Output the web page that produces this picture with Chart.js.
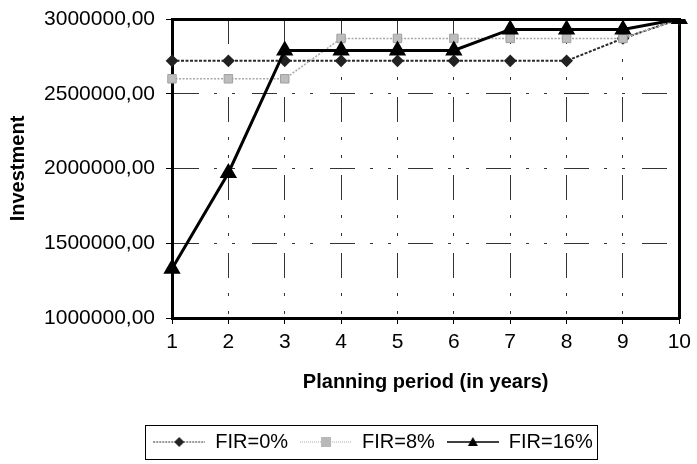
<!DOCTYPE html>
<html>
<head>
<meta charset="utf-8">
<script src="https://cdn.jsdelivr.net/npm/chart.js@4.4.1/dist/chart.umd.min.js"></script>
<style>
  html, body { margin: 0; padding: 0; background: #fff; }
</style>
</head>
<body>
<canvas id="invChart" width="697" height="464"></canvas>
<script>
const years = ['1', '2', '3', '4', '5', '6', '7', '8', '9', '10'];
const fir0 = [2720000, 2720000, 2720000, 2720000, 2720000, 2720000, 2720000, 2720000, 2870000, 3000000];
const fir8 = [2600000, 2600000, 2600000, 2870000, 2870000, 2870000, 2870000, 2870000, 2870000, 3000000];
const fir16 = [1330000, 1970000, 2790000, 2790000, 2790000, 2790000, 2930000, 2930000, 2930000, 3000000];
const yTicks = [1000000, 1500000, 2000000, 2500000, 3000000];

const FONT = 'Liberation Sans, Arial, sans-serif';
const gridDash = [25, 15, 3, 15, 3, 17];

// little "line - marker - line" pictures for the legend
function legendIcon(kind) {
  const c = document.createElement('canvas');
  c.width = 52; c.height = 16;
  const g = c.getContext('2d');
  const cy = 8;
  g.beginPath();
  g.moveTo(0, cy); g.lineTo(52, cy);
  if (kind === 0) { g.strokeStyle = '#333'; g.lineWidth = 1; g.setLineDash([2, 1]); }
  if (kind === 1) { g.strokeStyle = '#aaa'; g.lineWidth = 1; g.setLineDash([1, 1]); }
  if (kind === 2) { g.strokeStyle = '#000'; g.lineWidth = 1.5; }
  g.stroke();
  g.setLineDash([]);
  g.beginPath();
  if (kind === 0) {
    g.fillStyle = '#222';
    g.moveTo(26, cy - 5); g.lineTo(31, cy); g.lineTo(26, cy + 5); g.lineTo(21, cy);
  } else if (kind === 1) {
    g.fillStyle = '#b8b8b8';
    g.rect(21, cy - 5, 10, 10);
  } else {
    g.fillStyle = '#000';
    g.moveTo(26, cy - 5); g.lineTo(31, cy + 4); g.lineTo(21, cy + 4);
  }
  g.closePath();
  g.fill();
  return c;
}
const icons = [legendIcon(0), legendIcon(1), legendIcon(2)];

const legendFrame = {
  id: 'legendFrame',
  afterLayout(chart) {
    // move the legend a bit to the right, like the original
    chart.legend.left += 33;
    chart.legend.right += 33;
  },
  afterDraw(chart) {
    const boxes = chart.legend.legendHitBoxes;
    if (!boxes || !boxes.length) return;
    const first = boxes[0], last = boxes[boxes.length - 1];
    const ctx = chart.ctx;
    ctx.save();
    ctx.strokeStyle = '#000';
    ctx.lineWidth = 1;
    const x1 = first.left - 8, x2 = last.left + last.width + 4;
    const y1 = first.top - 7, y2 = first.top + first.height + 7;
    ctx.strokeRect(Math.round(x1) + 0.5, Math.round(y1) + 0.5, Math.round(x2 - x1), Math.round(y2 - y1));
    ctx.restore();
  }
};

const ctx = document.getElementById('invChart').getContext('2d');
new Chart(ctx, {
  type: 'line',
  data: {
    labels: years,
    datasets: [
      {
        label: 'FIR=0%',
        data: fir0,
        borderColor: '#2a2a2a',
        borderWidth: 2,
        borderDash: [3, 1.5],
        pointStyle: 'rectRot',
        pointRadius: 5,
        pointBackgroundColor: '#222',
        pointBorderColor: '#222',
        order: 2
      },
      {
        label: 'FIR=8%',
        data: fir8,
        borderColor: '#a8a8a8',
        borderWidth: 1.5,
        borderDash: [2, 1.5],
        pointStyle: 'rect',
        pointRadius: 6,
        pointBackgroundColor: '#bdbdbd',
        pointBorderColor: '#a0a0a0',
        pointBorderWidth: 1,
        order: 1
      },
      {
        label: 'FIR=16%',
        data: fir16,
        borderColor: '#000',
        borderWidth: 3,
        pointStyle: 'triangle',
        pointRadius: 7,
        pointBackgroundColor: '#000',
        pointBorderColor: '#000',
        order: 0
      }
    ]
  },
  options: {
    responsive: false,
    animation: false,
    layout: { padding: { left: 0, right: 17, top: 19, bottom: 2 } },
    scales: {
      x: {
        type: 'category',
        offset: false,
        grid: { color: '#333', lineWidth: 1, tickLength: 6, tickColor: '#000' },
        border: { color: '#000', width: 3, dash: gridDash },
        ticks: { color: '#000', font: { family: FONT, size: 21 }, padding: 6, maxRotation: 0, autoSkip: false },
        title: {
          display: true,
          text: 'Planning period (in years)',
          color: '#000',
          font: { family: FONT, size: 20, weight: 'bold' },
          padding: { top: 0, bottom: 26 }
        },
        afterFit(scale) { scale.height = 102; }
      },
      x2: {
        type: 'category',
        position: 'top',
        offset: false,
        grid: { display: false, drawTicks: false },
        ticks: { display: false },
        border: { color: '#000', width: 3 }
      },
      y: {
        min: 1000000,
        max: 3000000,
        grid: { color: '#333', lineWidth: 1, tickLength: 6, tickColor: '#000' },
        border: { color: '#000', width: 3, dash: gridDash },
        afterBuildTicks(scale) { scale.ticks = yTicks.map(v => ({ value: v })); },
        ticks: {
          color: '#000',
          font: { family: FONT, size: 21 },
          padding: 11,
          callback: v => v.toFixed(2).replace('.', ',')
        },
        title: {
          display: true,
          text: 'Investment',
          color: '#000',
          font: { family: FONT, size: 20, weight: 'bold' },
          padding: { top: 6, bottom: 0 }
        },
        afterFit(scale) {
          scale.width = 172;
          scale.paddingTop = 0;
          scale.paddingBottom = 0;
        }
      },
      y2: {
        position: 'right',
        min: 1000000,
        max: 3000000,
        grid: { display: false, drawTicks: false },
        ticks: { display: false },
        border: { color: '#000', width: 3 }
      }
    },
    plugins: {
      tooltip: { enabled: false },
      legend: {
        position: 'bottom',
        labels: {
          usePointStyle: true,
          pointStyleWidth: 52,
          padding: 12,
          color: '#000',
          font: { family: FONT, size: 20 },
          sort: (a, b) => a.datasetIndex - b.datasetIndex,
          generateLabels(chart) {
            const items = Chart.defaults.plugins.legend.labels.generateLabels(chart);
            return items.map(it => Object.assign(it, { pointStyle: icons[it.datasetIndex] }));
          }
        }
      }
    }
  },
  plugins: [legendFrame]
});
</script>
</body>
</html>
